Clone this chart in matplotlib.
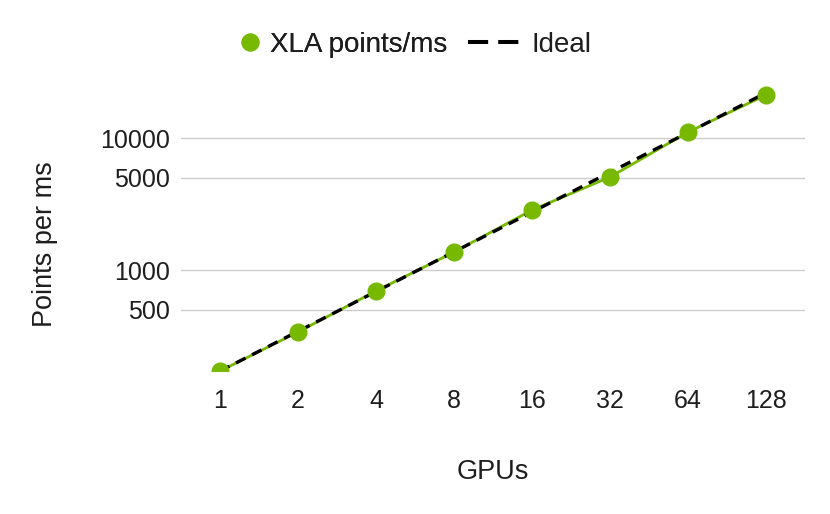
import matplotlib.pyplot as plt
from matplotlib.lines import Line2D
from matplotlib.ticker import FixedLocator, NullLocator

plt.rcParams['font.family'] = ['Liberation Sans', 'DejaVu Sans']

# Dados
gpus = ['1', '2', '4', '8', '16', '32', '64', '128']
xla_points = [172, 340, 695, 1370, 2850, 5070, 11100, 21200]
ideal = [172, 344, 688, 1376, 2752, 5504, 11008, 22016]
y_ticks = [500, 1000, 5000, 10000]

green = '#76b900'
text_color = '#1e1e1e'
x = list(range(len(gpus)))

fig = plt.figure(figsize=(8.3, 5.14), dpi=100)
ax = fig.add_axes([0.218, 0.278, 0.752, 0.557])

# Linha verde, linha ideal tracejada e marcadores por cima
ax.plot(x, xla_points, color=green, linewidth=2, zorder=2)
ax.plot(x, ideal, color='black', linestyle=(0, (3.2, 2.2)), linewidth=2.4, zorder=3)
ax.plot(x, xla_points, linestyle='none', marker='o', markersize=12,
        color=green, zorder=4)

ax.set_yscale('log')
ax.set_ylim(172, 25300)
ax.set_xlim(-0.5, len(gpus) - 0.5)
ax.yaxis.set_major_locator(FixedLocator(y_ticks))
ax.yaxis.set_minor_locator(NullLocator())
ax.set_yticklabels([str(t) for t in y_ticks])
ax.set_xticks(x)
ax.set_xticklabels(gpus)
ax.tick_params(axis='both', length=0, labelsize=18, colors=text_color)
ax.tick_params(axis='y', pad=8)
ax.tick_params(axis='x', pad=13)
ax.grid(axis='y', color='#cccccc', linewidth=1)
ax.set_axisbelow(True)
for s in ax.spines.values():
    s.set_visible(False)

ax.set_xlabel('GPUs', fontsize=19.5, labelpad=33, color=text_color)
fig.text(45 / 830, 270 / 514, 'Points per ms', rotation=90, ha='center',
         va='center', fontsize=19.5, color=text_color)

# Legenda: duas caixas separadas para acertar os espaçamentos
h_xla = Line2D([], [], linestyle='none', marker='o', markersize=12, color=green)
h_ideal = Line2D([], [], color='black', linewidth=2.9, linestyle=(0, (5, 2.5)))
leg1 = fig.legend([h_xla], ['XLA points/ms'], loc='center left',
                  bbox_to_anchor=(0.2843, 0.9125), frameon=False, fontsize=20,
                  handlelength=1.0, handletextpad=0.22, borderpad=0,
                  borderaxespad=0, labelcolor=text_color)
fig.add_artist(leg1)
fig.legend([h_ideal], ['Ideal'], loc='center left',
           bbox_to_anchor=(0.5639, 0.9125), frameon=False, fontsize=20,
           handlelength=1.83, handletextpad=0.47, borderpad=0,
           borderaxespad=0, labelcolor=text_color)

fig.savefig('out.png', dpi=100)
